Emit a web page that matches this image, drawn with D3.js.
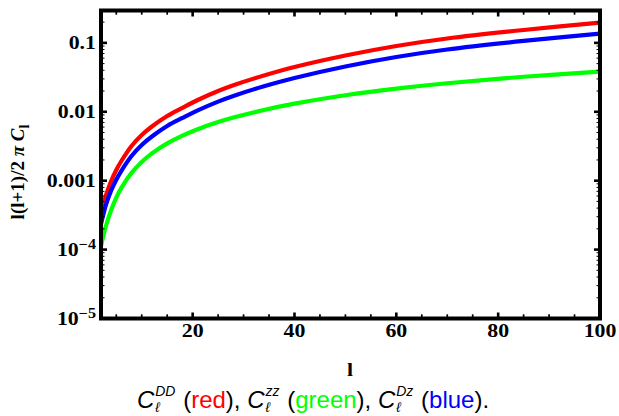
<!DOCTYPE html>
<html>
<head>
<meta charset="utf-8">
<script src="https://cdn.jsdelivr.net/npm/d3@7"></script>
<style>
  html, body { margin: 0; padding: 0; background: #fff; }
  svg { display: block; }
</style>
</head>
<body>
<svg id="chart" width="619" height="416"></svg>
<script>
// Multipole values and the three angular power spectra, l(l+1)/2π C_l
const multipoles = [2, 3, 4, 5, 6, 8, 10, 12, 15, 18, 21, 25, 28, 34, 40, 50, 60, 70, 85, 100];
const clDD = [3.18e-4, 6.20e-4, 9.90e-4, 1.43e-3, 1.93e-3, 3.19e-3, 4.61e-3, 6.12e-3, 8.69e-3, 0.01143,
              0.01483, 0.02003, 0.02424, 0.03363, 0.04469, 0.06566, 0.0902, 0.1158, 0.1539, 0.1964];
const clZZ = [1.128e-4, 2.238e-4, 3.755e-4, 5.665e-4, 7.86e-4, 1.298e-3, 1.868e-3, 2.489e-3, 3.478e-3, 4.515e-3,
              5.59e-3, 7.09e-3, 8.24e-3, 0.01062, 0.01311, 0.01736, 0.02164, 0.02592, 0.03221, 0.03819];
const clDz = [2.35e-4, 4.54e-4, 7.21e-4, 1.034e-3, 1.392e-3, 2.283e-3, 3.297e-3, 4.38e-3, 6.22e-3, 8.13e-3,
              0.01048, 0.01406, 0.01696, 0.02345, 0.03094, 0.04545, 0.06242, 0.0802, 0.1066, 0.1360];

const xTicks = [20, 40, 60, 80, 100];
const xMinorStep = 5;
const yTicks = [1e-5, 1e-4, 1e-3, 1e-2, 1e-1];
const yTickLabels = [["10", "\u22125"], ["10", "\u22124"], ["0.001"], ["0.01"], ["0.1"]];

const RED = "#ff0000", GREEN = "#00ff00", BLUE = "#0000ff";
const series = [
  { name: "DD", values: clDD, color: RED },
  { name: "Dz", values: clDz, color: BLUE },
  { name: "zz", values: clZZ, color: GREEN }
];

const svg = d3.select("#chart");
const plotL = 101, plotR = 600, plotT = 10.5, plotB = 318.5;

const x = d3.scaleLinear().domain([2, 100]).range([plotL, plotR]);
const y = d3.scaleLog().domain([1e-5, 0.295]).range([plotB, plotT]);

// clip curves to the frame
svg.append("defs").append("clipPath").attr("id", "plotClip")
  .append("rect").attr("x", plotL).attr("y", plotT).attr("width", plotR - plotL).attr("height", plotB - plotT);

const line = d3.line()
  .x((d, i) => x(multipoles[i]))
  .y(d => y(d))
  .curve(d3.curveCatmullRom.alpha(0.5));

const curves = svg.append("g").attr("clip-path", "url(#plotClip)");
series.forEach(s => {
  curves.append("path")
    .attr("d", line(s.values))
    .attr("fill", "none")
    .attr("stroke", s.color)
    .attr("stroke-width", 4.2);
});

// frame
svg.append("rect")
  .attr("x", plotL).attr("y", plotT)
  .attr("width", plotR - plotL).attr("height", plotB - plotT)
  .attr("fill", "none").attr("stroke", "#000").attr("stroke-width", 4);

const ticks = svg.append("g").attr("stroke", "#000");

// x ticks, bottom and top, pointing inward
const xMinor = d3.range(5, 100, xMinorStep).filter(v => xTicks.indexOf(v) < 0);
xTicks.forEach(v => {
  const px = x(v);
  ticks.append("line").attr("x1", px).attr("x2", px).attr("y1", plotB).attr("y2", plotB - 6).attr("stroke-width", 2.6);
  ticks.append("line").attr("x1", px).attr("x2", px).attr("y1", plotT).attr("y2", plotT + 6).attr("stroke-width", 2.6);
});
xMinor.forEach(v => {
  const px = x(v);
  ticks.append("line").attr("x1", px).attr("x2", px).attr("y1", plotB).attr("y2", plotB - 4.2).attr("stroke-width", 1.7);
  ticks.append("line").attr("x1", px).attr("x2", px).attr("y1", plotT).attr("y2", plotT + 4.2).attr("stroke-width", 1.7);
});

// y ticks, left and right
yTicks.forEach(v => {
  const py = y(v);
  ticks.append("line").attr("x1", plotL).attr("x2", plotL + 6).attr("y1", py).attr("y2", py).attr("stroke-width", 2.6);
  ticks.append("line").attr("x1", plotR).attr("x2", plotR - 6).attr("y1", py).attr("y2", py).attr("stroke-width", 2.6);
});
const yMinor = [];
yTicks.forEach(d => { for (let k = 2; k <= 9; k++) if (d * k < 0.295) yMinor.push(d * k); });
yMinor.forEach(v => {
  const py = y(v);
  ticks.append("line").attr("x1", plotL).attr("x2", plotL + 3.5).attr("y1", py).attr("y2", py).attr("stroke-width", 1);
  ticks.append("line").attr("x1", plotR).attr("x2", plotR - 3.5).attr("y1", py).attr("y2", py).attr("stroke-width", 1);
});

const serif = "'Liberation Serif', 'Times New Roman', serif";
const widen = 1.15; // tick label glyphs are slightly wide

// x tick labels
xTicks.forEach(v => {
  svg.append("text")
    .attr("transform", `translate(${x(v)},337) scale(${widen},1)`)
    .attr("text-anchor", "middle")
    .attr("font-family", serif).attr("font-weight", "bold").attr("font-size", 19)
    .text(v);
});

// y tick labels
yTicks.forEach((v, i) => {
  const t = svg.append("text")
    .attr("transform", `translate(96,${y(v) + 6}) scale(${widen},1)`)
    .attr("text-anchor", "end")
    .attr("font-family", serif).attr("font-weight", "bold").attr("font-size", 19);
  const lab = yTickLabels[i];
  t.append("tspan").text(lab[0]);
  if (lab.length > 1) {
    t.append("tspan").attr("dy", -7).attr("font-size", 14).text(lab[1]);
  }
});

// axis titles
svg.append("text")
  .attr("transform", `translate(350,376) scale(${widen},1)`)
  .attr("text-anchor", "middle")
  .attr("font-family", serif).attr("font-weight", "bold").attr("font-size", 19)
  .text("l");

const yTitle = svg.append("text")
  .attr("transform", "translate(24,172) rotate(-90)")
  .attr("text-anchor", "middle")
  .attr("font-family", serif).attr("font-weight", "bold").attr("font-size", 19);
yTitle.append("tspan").text("l(l+1)/2 ");
yTitle.append("tspan").attr("font-style", "italic").text("\u03c0 C");
yTitle.append("tspan").attr("dy", 5).attr("font-size", 14).text("l");

// caption below the plot: one text element, with stacked sub/superscripts
const sans = "'Liberation Sans', Arial, sans-serif";
const capSize = 24, scriptSize = 14;
const captionParts = [
  { c: true, sup: "DD" },
  { t: "\u00a0(" }, { t: "red", color: RED }, { t: "),\u00a0" },
  { c: true, sup: "zz" },
  { t: "\u00a0(" }, { t: "green", color: GREEN }, { t: "),\u00a0" },
  { c: true, sup: "Dz" },
  { t: "\u00a0(" }, { t: "blue", color: BLUE }, { t: ")." }
];
function measure(str, size, italic) {
  const t = svg.append("text").attr("font-family", sans).attr("font-size", size)
    .attr("font-style", italic ? "italic" : "normal").text(str);
  const w = t.node().getComputedTextLength();
  t.remove();
  return w;
}
const baseY = 408;
const runs = [];
let cx = 0;
captionParts.forEach(p => {
  if (p.c) {
    runs.push({ s: "C", x: cx, y: baseY, size: capSize, italic: true });
    cx += measure("C", capSize, true) + 1;
    runs.push({ s: p.sup, x: cx, y: baseY - 12, size: scriptSize, italic: true });
    runs.push({ s: "\u2113", x: cx, y: baseY + 4, size: scriptSize, italic: true });
    cx += Math.max(measure(p.sup, scriptSize, true), measure("\u2113", scriptSize, true)) + 1;
  } else {
    runs.push({ s: p.t, x: cx, y: baseY, size: capSize, color: p.color });
    cx += measure(p.t, capSize, false);
  }
});
const capStart = 313 - cx / 2;
const caption = svg.append("text").attr("font-family", sans);
runs.forEach(r => {
  caption.append("tspan")
    .attr("x", capStart + r.x).attr("y", r.y)
    .attr("font-size", r.size)
    .attr("font-style", r.italic ? "italic" : "normal")
    .attr("fill", r.color || "#000")
    .text(r.s);
});
</script>
</body>
</html>
